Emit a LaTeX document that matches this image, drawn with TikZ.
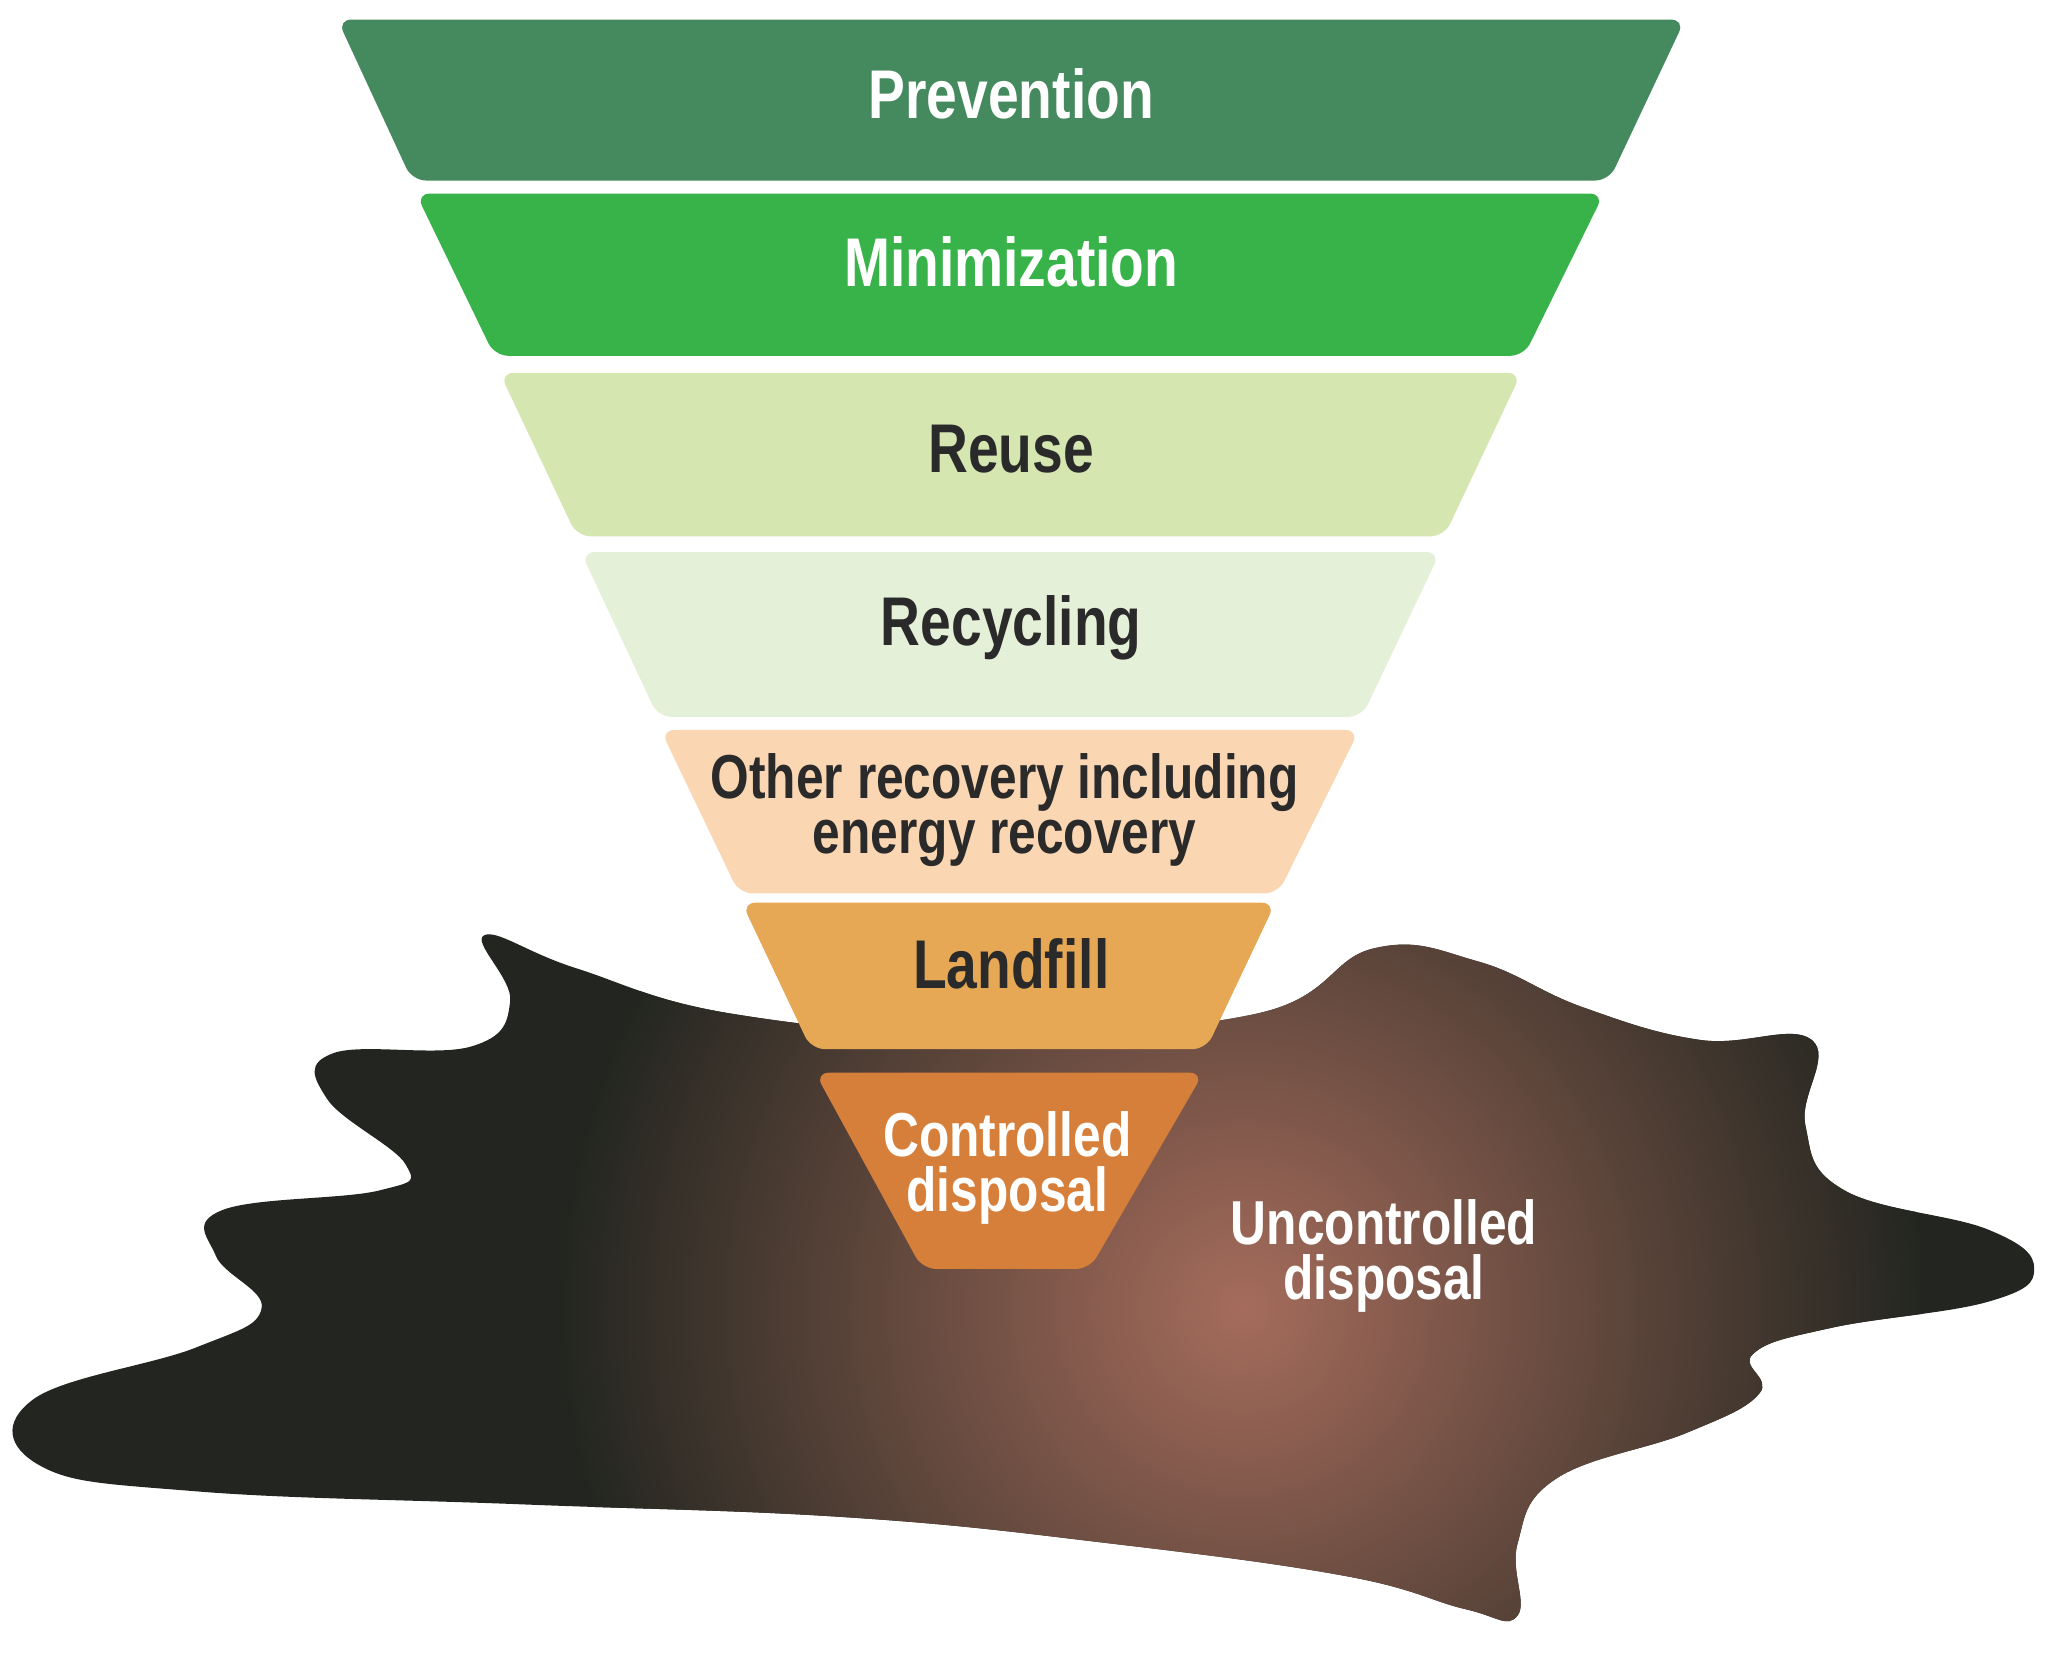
\documentclass[tikz,border=0pt]{standalone}
\usepackage{fontspec}
\setmainfont{Liberation Sans}[FakeStretch=0.8]
\usetikzlibrary{positioning}
\definecolor{prevcol}{HTML}{458A5E}
\definecolor{mincol}{HTML}{37B34A}
\definecolor{reusecol}{HTML}{D5E6B0}
\definecolor{recycol}{HTML}{E5F0D8}
\definecolor{othercol}{HTML}{FAD7B2}
\definecolor{landcol}{HTML}{E7A856}
\definecolor{contcol}{HTML}{D67F3A}
\definecolor{blobdark}{HTML}{232620}
\definecolor{blobbrown}{HTML}{A56C5C}
\definecolor{txtdark}{HTML}{2A2A2A}
\tikzset{
  band/.style={rounded corners=3pt},
  lab/.style={font=\bfseries\fontsize{15}{14}\selectfont, align=center},
  other lab/.style={font=\bfseries\fontsize{13.5}{12}\selectfont, align=center},
  small lab/.style={font=\bfseries\fontsize{13.5}{12}\selectfont, align=center},
}
\begin{document}
\begin{tikzpicture}[x=1cm,y=-1cm]
\useasboundingbox (0,0) rectangle (15.64,12.79);

% spill
\path[path picture={
    \fill[blobdark] (0,0) rectangle (16,13);
    \shade[inner color=blobbrown, outer color=blobdark] (9.5,10.0) circle (5.2);
  }]
  plot[smooth cycle, tension=0.7] coordinates {
  (3.7,7.15) (4.4,7.4) (5.6,7.75) (7.5,7.9) (9.6,7.75) (10.5,7.25) (11.3,7.35)
  (12.1,7.7) (13.0,7.95) (13.85,7.95) (13.8,8.6) (14.1,9.1) (15.2,9.4) (15.55,9.7)
  (15.2,9.95) (14.0,10.15) (13.4,10.35) (13.45,10.65) (12.9,10.95) (11.9,11.3)
  (11.6,11.8) (11.6,12.35) (11.2,12.3) (10.3,12.05) (8.5,11.8) (6.5,11.6)
  (4.0,11.5) (1.5,11.4) (0.3,11.2) (0.25,10.7) (1.5,10.3) (2.0,10.0) (1.65,9.6)
  (1.7,9.25) (2.9,9.1) (3.1,8.9) (2.5,8.4) (2.55,8.05) (3.6,8.0) (3.9,7.65)
};

% funnel bands
\fill[band, prevcol] (2.58,0.15) -- (12.88,0.15) -- (12.30,1.38) -- (3.15,1.38) -- cycle;
\fill[band, mincol] (3.18,1.48) -- (12.26,1.48) -- (11.65,2.72) -- (3.78,2.72) -- cycle;
\fill[band, reusecol] (3.82,2.85) -- (11.63,2.85) -- (11.04,4.10) -- (4.41,4.10) -- cycle;
\fill[band, recycol] (4.44,4.22) -- (11.01,4.22) -- (10.41,5.48) -- (5.03,5.48) -- cycle;
\fill[band, othercol] (5.05,5.58) -- (10.39,5.58) -- (9.77,6.83) -- (5.65,6.83) -- cycle;
\fill[band, landcol] (5.67,6.90) -- (9.75,6.90) -- (9.22,8.02) -- (6.20,8.02) -- cycle;
\fill[band, contcol] (6.23,8.20) -- (9.20,8.20) -- (8.33,9.70) -- (7.05,9.70) -- cycle;

% labels
\node[lab, white] (prev) at (7.73,0.72) {Prevention};
\node[lab, white] (mini) at (7.73,2.0) {Minimization};
\node[lab, txtdark] (reuse) at (7.73,3.43) {Reuse};
\node[lab, txtdark] (recy) at (7.73,4.80) {Recycling};
\node[other lab, txtdark] (other) at (7.68,6.19) {Other recovery including\\energy recovery};
\node[lab, txtdark] (land) at (7.73,7.37) {Landfill};
\node[small lab, white] (cont) at (7.70,8.93) {Controlled\\disposal};
\node[small lab, white] (uncont) at (10.58,9.60) {Uncontrolled\\disposal};
\end{tikzpicture}
\end{document}
